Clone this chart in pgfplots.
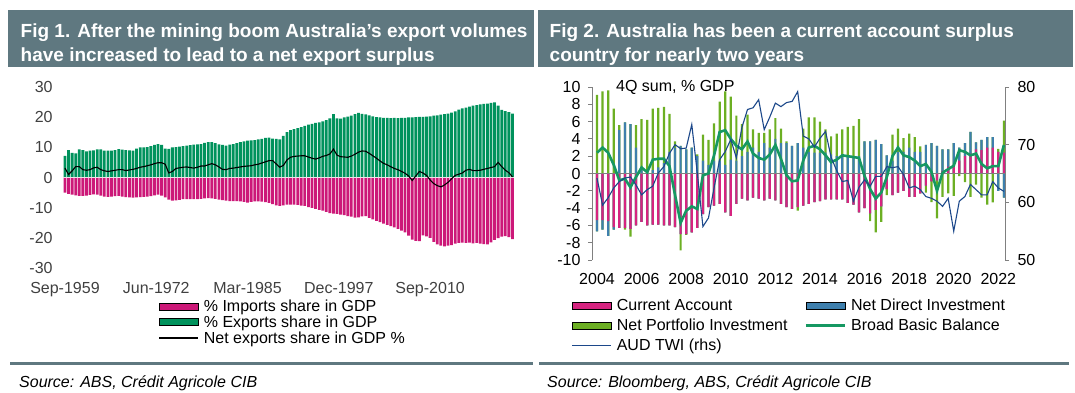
\documentclass[border=0pt]{standalone}
\usepackage{fontspec}
\setmainfont{Liberation Sans}
\usepackage{pgfplots}
\usepackage{pgfplotstable}
\pgfplotsset{compat=1.18}
\definecolor{titlebg}{RGB}{95,120,128}
\definecolor{impmag}{RGB}{204,24,120}
\definecolor{expgrn}{RGB}{0,146,92}
\definecolor{camag}{RGB}{214,36,128}
\definecolor{diblue}{RGB}{62,127,173}
\definecolor{pigrn}{RGB}{108,175,35}
\definecolor{bbbgrn}{RGB}{22,152,98}
\definecolor{twiblue}{RGB}{28,72,138}
\definecolor{axgray}{RGB}{128,128,128}
\definecolor{zeroln}{RGB}{238,226,232}

\pgfplotsset{
  barlegend/.style={legend image code/.code={\fill[##1] (0pt,-3.5pt) rectangle (39pt,3.5pt);}},
  lnlegend/.style={legend image code/.code={\draw[##1] (0pt,0pt) -- (39pt,0pt);}},
}

\pgfplotstableread{
q E I N
0 7.2 -5.0 3.1
2 9.1 -5.4 1.0
4 8.2 -5.7 2.2
6 8.0 -5.9 3.6
8 9.3 -6.1 3.6
10 9.1 -6.1 2.6
12 8.7 -6.0 2.4
14 8.9 -5.8 2.6
16 9.0 -5.6 3.2
18 9.3 -5.7 3.4
20 9.3 -6.0 2.6
22 8.9 -6.3 2.2
24 8.9 -6.4 2.0
26 8.9 -6.3 2.2
28 9.1 -6.2 2.4
30 9.4 -6.1 2.6
32 9.2 -6.3 2.6
34 9.1 -6.5 2.3
36 9.0 -6.6 2.5
38 8.9 -6.7 2.7
40 9.6 -6.6 3.0
42 10.0 -6.5 3.4
44 10.0 -6.4 3.6
46 10.1 -6.3 3.9
48 10.4 -6.2 4.2
50 10.8 -5.9 4.6
52 11.1 -5.7 4.9
54 10.8 -6.0 4.9
56 9.6 -6.6 4.4
58 9.5 -7.3 1.5
60 10.0 -7.7 2.0
62 10.1 -7.6 3.0
64 10.2 -7.4 3.2
66 10.4 -7.2 3.4
68 10.6 -7.2 3.5
70 10.7 -7.2 3.3
72 10.9 -7.2 3.1
74 11.0 -7.2 3.4
76 11.1 -7.1 3.8
78 11.5 -6.9 3.8
80 11.7 -6.8 4.2
82 11.7 -6.9 4.6
84 11.4 -7.1 4.2
86 11.0 -7.3 3.5
88 10.8 -7.5 2.7
90 10.6 -7.7 2.6
92 10.9 -7.8 3.0
94 11.1 -7.8 3.1
96 11.4 -7.8 3.3
98 11.7 -7.9 3.5
100 12.0 -8.1 3.7
102 12.2 -8.3 3.8
104 12.3 -8.1 3.9
106 12.4 -7.9 4.2
108 12.6 -7.9 4.4
110 12.8 -8.0 4.8
112 13.1 -8.2 5.2
114 13.2 -8.4 5.6
116 12.9 -8.8 5.6
118 12.8 -9.2 4.5
120 12.6 -9.4 3.4
122 13.8 -9.2 4.0
124 15.0 -9.0 5.8
126 15.7 -9.0 6.7
128 16.0 -9.0 7.0
130 16.4 -9.1 7.1
132 16.7 -9.3 7.2
134 17.1 -9.4 7.2
136 17.5 -9.8 6.8
138 17.8 -10.1 6.4
140 18.1 -10.4 6.1
142 18.3 -10.7 6.5
144 18.6 -11.0 7.0
146 19.0 -11.4 7.3
148 19.6 -11.8 7.8
150 21.0 -12.0 9.4
152 19.6 -12.1 7.4
154 19.5 -12.3 6.9
156 19.9 -12.5 6.8
158 20.2 -12.8 6.7
160 20.5 -13.0 7.1
162 21.0 -13.3 7.7
164 21.4 -13.2 8.4
166 21.1 -12.9 8.8
168 20.9 -12.8 8.7
170 20.6 -13.4 8.0
172 20.3 -13.9 7.2
174 20.0 -14.4 6.4
176 19.9 -14.8 5.5
178 19.8 -15.3 4.7
180 19.8 -15.7 4.2
182 19.7 -16.1 3.6
184 19.8 -16.5 3.0
186 19.7 -17.0 2.6
188 19.8 -17.6 2.0
190 19.8 -18.2 1.4
192 19.9 -19.3 0.5
194 19.9 -20.6 -1.0
196 20.0 -21.0 0.5
198 20.1 -21.1 2.0
200 20.1 -19.2 1.5
202 20.2 -19.5 0.7
204 20.3 -20.0 -0.8
206 20.5 -21.3 -2.0
208 20.6 -22.2 -2.7
210 20.8 -22.6 -3.1
212 21.0 -22.8 -2.5
214 21.2 -22.6 -1.6
216 21.5 -22.4 -0.4
218 21.9 -21.9 0.7
220 22.5 -21.7 1.1
222 22.9 -21.6 1.5
224 23.2 -21.7 2.4
226 23.5 -21.6 2.7
228 23.8 -21.8 2.3
230 24.0 -21.7 2.3
232 24.2 -21.9 2.4
234 24.4 -22.1 2.7
236 24.5 -22.2 3.0
238 24.7 -21.5 3.3
240 24.9 -20.7 3.6
242 23.8 -20.1 5.0
244 22.4 -19.6 3.6
246 22.0 -19.4 2.4
248 21.7 -19.8 1.6
250 21.2 -20.4 0.2
}\tradetable

\pgfplotstableread{
i CA DI PI BBB TWI
0 -5.4 -1.3 9.1 2.4 64.2
1 -5.4 -1.1 9.5 3.0 59.5
2 -5.5 -1.7 9.6 2.4 60.8
3 -6.2 -0.3 7.5 1.0 62.5
4 -6.3 5.0 0.6 -0.8 63.6
5 -6.3 5.9 -0.2 -0.6 64.2
6 -6.4 5.7 -0.9 -1.6 64.4
7 -6.0 3.0 2.6 -0.4 63.0
8 -5.6 0.5 5.8 0.7 61.3
9 -6.0 0.4 5.8 0.15 62.2
10 -5.9 0.4 7.1 1.6 62.8
11 -5.9 0.7 6.9 1.7 65.1
12 -6.0 1.2 6.5 1.7 66.2
13 -6.0 2.5 4.4 0.85 68.5
14 -6.2 3.0 0.7 -2.5 70.0
15 -7.0 3.2 -1.9 -5.7 69.3
16 -7.0 2.8 -0.1 -4.3 69.4
17 -6.8 3.0 0.0 -3.8 73.5
18 -6.3 2.0 0.2 -4.1 65.0
19 -4.7 1.5 3.0 -0.2 55.8
20 -3.9 1.0 2.9 0.0 57.3
21 -3.7 1.5 4.3 2.1 62.5
22 -3.5 1.5 6.8 4.8 67.4
23 -4.5 1.0 8.5 5.0 68.8
24 -4.9 1.6 7.3 4.0 70.9
25 -3.5 1.5 5.2 3.2 67.7
26 -2.9 2.0 3.7 2.8 73.0
27 -3.1 2.5 4.3 3.7 76.1
28 -2.8 3.0 2.1 2.3 76.4
29 -2.9 2.5 2.2 1.8 77.8
30 -3.1 3.5 1.2 1.6 72.6
31 -2.9 3.0 2.1 2.2 74.8
32 -3.1 4.0 2.4 3.3 77.2
33 -3.5 3.5 1.7 1.7 76.6
34 -3.9 3.5 0.2 -0.2 77.3
35 -4.1 3.2 0.0 -0.9 77.5
36 -3.9 3.5 -0.4 -0.8 79.2
37 -3.7 3.0 2.2 1.5 71.5
38 -3.5 2.5 4.0 3.0 71.0
39 -3.3 2.4 4.1 3.2 69.6
40 -3.2 2.4 3.6 2.8 71.1
41 -3.0 2.4 2.7 2.1 72.3
42 -3.0 2.2 2.1 1.3 67.8
43 -3.0 2.0 2.6 1.6 65.5
44 -3.0 2.2 2.9 2.1 63.6
45 -3.4 2.0 3.4 2.0 63.8
46 -3.6 2.0 3.5 1.9 60.2
47 -4.5 2.0 4.3 1.8 62.6
48 -4.0 3.7 0.0 -0.3 63.9
49 -4.6 3.7 -0.9 -1.8 62.8
50 -4.2 3.9 -2.6 -2.9 64.5
51 -3.8 3.4 -1.8 -2.2 64.5
52 -1.8 2.1 -0.7 -0.4 66.2
53 -2.5 1.5 3.0 2.0 66.0
54 -2.2 2.5 2.7 3.0 66.2
55 -2.0 2.5 1.6 2.1 64.8
56 -2.7 3.0 1.6 1.9 62.5
57 -2.7 2.5 1.7 1.5 62.8
58 -2.3 2.5 0.65 0.85 62.2
59 -1.4 3.3 -0.8 1.1 61.0
60 -0.9 3.5 -2.4 0.2 60.7
61 -0.8 3.2 -4.4 -2.0 60.2
62 0.3 2.5 -2.7 0.1 59.3
63 0.8 2.0 -2.3 0.5 60.7
64 1.0 2.5 -2.6 0.9 55.0
65 1.5 1.5 -0.3 2.7 60.2
66 2.0 1.5 -1.0 2.5 61.0
67 2.3 2.5 -2.7 2.1 63.1
68 2.8 0.8 -1.3 2.3 62.2
69 2.7 1.2 -2.8 1.1 61.3
70 3.0 1.2 -3.6 0.6 61.3
71 3.0 1.2 -3.35 0.85 63.6
72 2.5 -2.0 0.35 0.85 62.5
73 2.4 -2.8 3.7 3.3 61.9
}\flowtable

\begin{document}
\begin{tikzpicture}
\useasboundingbox (0pt,0pt) rectangle (1075pt,393pt);
% title boxes
\fill[titlebg] (8pt,326pt) rectangle (534pt,383pt);
\fill[titlebg] (538pt,326pt) rectangle (1073pt,383pt);
\begin{scope}[every node/.style={anchor=base west, inner sep=0pt, text=white, font=\fontsize{19}{23}\selectfont\bfseries}]
\node at (20.5pt,355.5pt) {Fig 1. After the mining boom Australia’s export volumes};
\node at (20.5pt,331.5pt) {have increased to lead to a net export surplus};
\node at (549.5pt,355.5pt) {Fig 2. Australia has been a current account surplus};
\node at (549.5pt,331.5pt) {country for nearly two years};
\end{scope}
% separators
\fill[titlebg] (10pt,27.5pt) rectangle (533pt,30.5pt);
\fill[titlebg] (539pt,28pt) rectangle (1069pt,31pt);
\node[anchor=base west, inner sep=0pt, font=\fontsize{16}{19}\selectfont\itshape] at (19pt,5pt) {Source: ABS, Crédit Agricole CIB};
\node[anchor=base west, inner sep=0pt, font=\fontsize{16}{19}\selectfont\itshape] at (547pt,5.5pt) {Source: Bloomberg, ABS, Crédit Agricole CIB};

% ---------- left chart ----------
\begin{axis}[
  at={(59.6pt,125pt)}, anchor=south west,
  scale only axis, width=460pt, height=181pt,
  xmin=-3, xmax=254, ymin=-30, ymax=30,
  ybar, bar width=1.55,
  every axis plot post/.append style={bar shift=0pt},
  axis line style={draw=none}, tick style={draw=none},
  ytick={-30,-20,-10,0,10,20,30},
  yticklabels={-30,-20,-10,0,10,20,30},
  xtick={0,51,102,153,204},
  xticklabels={Sep-1959,Jun-1972,Mar-1985,Dec-1997,Sep-2010},
  tick label style={font=\fontsize{16}{19}\selectfont, text=black!75},
  yticklabel style={xshift=-3.5pt},
  xticklabel style={yshift=-7pt},
  legend cell align=left,
  legend style={at={(axis description cs:0.2152,-0.163)}, anchor=north west,
    draw=none, fill=none, inner sep=0pt, row sep=-1.2pt,
    font=\fontsize{16}{18}\selectfont,
    /tikz/every odd column/.append style={column sep=3pt}},
]
\addlegendimage{barlegend, fill=impmag}
\addlegendentry{\% Imports share in GDP}
\addlegendimage{barlegend, fill=expgrn}
\addlegendentry{\% Exports share in GDP}
\addlegendimage{lnlegend, black, line width=1.1pt}
\addlegendentry{Net exports share in GDP \%}
\addplot[fill=impmag, draw=none, forget plot] table[x=q, y=I] {\tradetable};
\addplot[fill=expgrn, draw=none, forget plot] table[x=q, y=E] {\tradetable};
\draw[zeroln, line width=1.2pt] (axis cs:-1,0) -- (axis cs:251,0);
\addplot[sharp plot, black, line width=1.1pt, no marks, forget plot] table[x=q, y=N] {\tradetable};
\end{axis}

% ---------- right chart ----------
\begin{axis}[
  at={(592pt,133pt)}, anchor=south west,
  scale only axis, width=413pt, height=173pt,
  xmin=-0.9, xmax=73.2, ymin=-10, ymax=10,
  ybar, bar width=0.4,
  every axis plot post/.append style={bar shift=0pt},
  axis x line*=bottom, axis y line*=left,
  x axis line style={draw=none},
  y axis line style={draw=axgray, line width=0.9pt},
  xtick={0,8,...,72},
  xticklabels={2004,2006,2008,2010,2012,2014,2016,2018,2020,2022},
  xtick style={draw=none},
  ytick={-10,-8,...,10},
  yticklabels={-10,-8,-6,-4,-2,0,2,4,6,8,10},
  ytick style={draw=axgray, line width=0.9pt},
  tick align=outside, major tick length=4pt,
  tick label style={font=\fontsize{16}{19}\selectfont},
  yticklabel style={xshift=-4pt},
  xticklabel style={yshift=-6pt},
  legend cell align=left,
  legend columns=2,
  legend style={at={(axis description cs:-0.0496,-0.212)}, anchor=north west,
    draw=none, fill=none, inner sep=0pt, row sep=3pt,
    font=\fontsize{16}{18}\selectfont,
    /tikz/every odd column/.append style={column sep=3pt},
    /tikz/every even column/.append style={column sep=15pt}},
]
\addlegendimage{barlegend, fill=camag}
\addlegendentry{Current Account}
\addlegendimage{barlegend, fill=diblue}
\addlegendentry{Net Direct Investment}
\addlegendimage{barlegend, fill=pigrn}
\addlegendentry{Net Portfolio Investment}
\addlegendimage{lnlegend, bbbgrn, line width=2.6pt}
\addlegendentry{Broad Basic Balance}
\addlegendimage{lnlegend, twiblue, line width=1.1pt}
\addlegendentry{AUD TWI (rhs)}
% positive stack
\addplot[fill=pigrn, draw=none, forget plot] table[x=i, y expr={max(\thisrow{CA},0)+max(\thisrow{DI},0)+max(\thisrow{PI},0)}] {\flowtable};
\addplot[fill=diblue, draw=none, forget plot] table[x=i, y expr={max(\thisrow{CA},0)+max(\thisrow{DI},0)}] {\flowtable};
\addplot[fill=camag, draw=none, forget plot] table[x=i, y expr={max(\thisrow{CA},0)}] {\flowtable};
% negative stack
\addplot[fill=pigrn, draw=none, forget plot] table[x=i, y expr={min(\thisrow{CA},0)+min(\thisrow{DI},0)+min(\thisrow{PI},0)}] {\flowtable};
\addplot[fill=diblue, draw=none, forget plot] table[x=i, y expr={min(\thisrow{CA},0)+min(\thisrow{DI},0)}] {\flowtable};
\addplot[fill=camag, draw=none, forget plot] table[x=i, y expr={min(\thisrow{CA},0)}] {\flowtable};
\draw[axgray, line width=0.9pt] (axis cs:-0.9,0) -- (axis cs:73.2,0);
\addplot[sharp plot, bbbgrn, line width=2.6pt, no marks, forget plot] table[x=i, y=BBB] {\flowtable};
\end{axis}
\begin{axis}[
  at={(592pt,133pt)}, anchor=south west,
  scale only axis, width=413pt, height=173pt,
  xmin=-0.9, xmax=73.2, ymin=50, ymax=80,
  axis x line=none, axis y line*=right,
  y axis line style={draw=axgray, line width=0.9pt},
  ytick={50,60,70,80},
  ytick style={draw=axgray, line width=0.9pt},
  tick align=outside, major tick length=4pt,
  tick label style={font=\fontsize{16}{19}\selectfont},
  yticklabel style={/pgf/number format/assume math mode=true, xshift=5pt},
]
\addplot[sharp plot, twiblue, line width=1.1pt, no marks] table[x=i, y=TWI] {\flowtable};
\end{axis}
\node[anchor=base west, inner sep=0pt, font=\fontsize{16}{19}\selectfont] at (616pt,301.5pt) {4Q sum, \% GDP};
\end{tikzpicture}
\end{document}
